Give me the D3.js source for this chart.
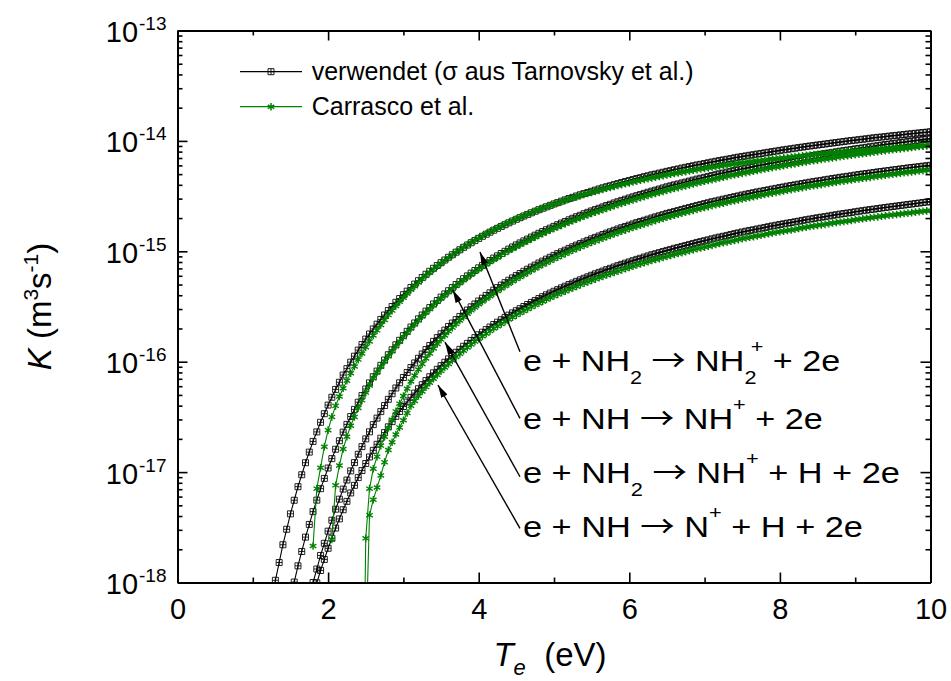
<!DOCTYPE html>
<html><head><meta charset="utf-8">
<script src="https://cdn.jsdelivr.net/npm/d3@7"></script>
<style>
body{margin:0;background:#fff}
text{font-family:"Liberation Sans",Arial,Helvetica,sans-serif;fill:#000}
</style>
</head><body><svg id="c" width="951" height="681"></svg>
<script>
// ---------- DATA: log10 of K (m^3 s^-1), Te grid in eV ----------
const te = [1.2,1.25,1.3,1.35,1.4,1.45,1.5,1.55,1.6,1.65,1.7,1.75,1.8,1.85,1.9,1.95,
2.0,2.05,2.1,2.15,2.2,2.25,2.3,2.35,2.4,2.45,2.5,2.55,2.6,2.65,2.7,2.75,2.8,2.85,2.9,2.95,
3.0,3.05,3.1,3.15,3.2,3.25,3.3,3.35,3.4,3.45,3.5,3.55,3.6,3.65,3.7,3.75,3.8,3.85,3.9,3.95,
4.0,4.05,4.1,4.15,4.2,4.25,4.3,4.35,4.4,4.45,4.5,4.55,4.6,4.65,4.7,4.75,4.8,4.85,4.9,4.95,
5.0,5.05,5.1,5.15,5.2,5.25,5.3,5.35,5.4,5.45,5.5,5.55,5.6,5.65,5.7,5.75,5.8,5.85,5.9,5.95,
6.0,6.05,6.1,6.15,6.2,6.25,6.3,6.35,6.4,6.45,6.5,6.55,6.6,6.65,6.7,6.75,6.8,6.85,6.9,6.95,
7.0,7.05,7.1,7.15,7.2,7.25,7.3,7.35,7.4,7.45,7.5,7.55,7.6,7.65,7.7,7.75,7.8,7.85,7.9,7.95,
8.0,8.05,8.1,8.15,8.2,8.25,8.3,8.35,8.4,8.45,8.5,8.55,8.6,8.65,8.7,8.75,8.8,8.85,8.9,8.95,
9.0,9.05,9.1,9.15,9.2,9.25,9.3,9.35,9.4,9.45,9.5,9.55,9.6,9.65,9.7,9.75,9.8,9.85,9.9,9.95,
10.0];

// verwendet (sigma aus Tarnovsky et al.)
const verw_NH2_NH2p = [-18.355,-18.161,-17.980,-17.819,-17.658,-17.518,-17.378,-17.255,-17.132,-17.024,-16.915,-16.819,-16.722,-16.636,-16.549,-16.471,
-16.393,-16.322,-16.251,-16.186,-16.121,-16.063,-16.004,-15.950,-15.895,-15.845,-15.795,-15.749,-15.703,-15.660,-15.617,-15.577,-15.537,-15.500,-15.462,-15.428,
-15.393,-15.361,-15.328,-15.297,-15.266,-15.237,-15.208,-15.181,-15.154,-15.129,-15.103,-15.079,-15.054,-15.031,-15.008,-14.986,-14.964,-14.943,-14.922,-14.903,
-14.883,-14.864,-14.845,-14.827,-14.809,-14.792,-14.775,-14.759,-14.742,-14.726,-14.710,-14.695,-14.680,-14.666,-14.651,-14.637,-14.623,-14.610,-14.597,-14.584,
-14.571,-14.559,-14.546,-14.534,-14.522,-14.511,-14.499,-14.488,-14.477,-14.467,-14.456,-14.446,-14.435,-14.425,-14.415,-14.406,-14.396,-14.387,-14.377,-14.368,
-14.359,-14.350,-14.341,-14.333,-14.324,-14.316,-14.307,-14.300,-14.292,-14.284,-14.276,-14.269,-14.261,-14.254,-14.246,-14.239,-14.232,-14.225,-14.218,-14.212,
-14.205,-14.198,-14.191,-14.185,-14.178,-14.172,-14.166,-14.160,-14.153,-14.147,-14.141,-14.136,-14.130,-14.125,-14.119,-14.114,-14.108,-14.103,-14.097,-14.092,
-14.086,-14.081,-14.076,-14.071,-14.066,-14.061,-14.056,-14.051,-14.046,-14.042,-14.037,-14.033,-14.028,-14.024,-14.019,-14.015,-14.010,-14.006,-14.001,-13.997,
-13.993,-13.989,-13.985,-13.981,-13.976,-13.972,-13.968,-13.965,-13.961,-13.957,-13.953,-13.950,-13.946,-13.942,-13.938,-13.935,-13.931,-13.928,-13.924,-13.921,
-13.917];
const verw_NH_NHp = [null,null,null,null,null,null,-18.143,-17.996,-17.849,-17.719,-17.589,-17.474,-17.358,-17.254,-17.150,-17.057,
-16.963,-16.878,-16.793,-16.716,-16.638,-16.568,-16.497,-16.432,-16.367,-16.307,-16.247,-16.192,-16.136,-16.085,-16.033,-15.985,-15.937,-15.892,-15.847,-15.806,
-15.764,-15.725,-15.686,-15.649,-15.612,-15.577,-15.542,-15.510,-15.477,-15.446,-15.415,-15.386,-15.357,-15.329,-15.301,-15.275,-15.248,-15.223,-15.198,-15.174,
-15.150,-15.128,-15.105,-15.083,-15.061,-15.041,-15.020,-15.000,-14.980,-14.961,-14.942,-14.924,-14.906,-14.889,-14.871,-14.854,-14.837,-14.821,-14.805,-14.790,
-14.774,-14.759,-14.744,-14.730,-14.715,-14.701,-14.687,-14.674,-14.660,-14.647,-14.634,-14.622,-14.610,-14.598,-14.585,-14.574,-14.562,-14.551,-14.539,-14.528,
-14.517,-14.507,-14.496,-14.486,-14.475,-14.465,-14.455,-14.446,-14.436,-14.426,-14.416,-14.407,-14.398,-14.390,-14.381,-14.373,-14.364,-14.355,-14.346,-14.338,
-14.330,-14.322,-14.314,-14.306,-14.298,-14.291,-14.283,-14.276,-14.268,-14.261,-14.254,-14.247,-14.240,-14.233,-14.226,-14.219,-14.212,-14.206,-14.199,-14.193,
-14.187,-14.181,-14.174,-14.168,-14.162,-14.156,-14.150,-14.144,-14.138,-14.132,-14.126,-14.121,-14.115,-14.110,-14.104,-14.099,-14.093,-14.088,-14.083,-14.078,
-14.072,-14.068,-14.063,-14.058,-14.053,-14.048,-14.043,-14.038,-14.033,-14.029,-14.024,-14.020,-14.015,-14.011,-14.006,-14.002,-13.997,-13.993,-13.988,-13.984,
-13.980];
const verw_NH2_NHp = [null,null,null,null,null,null,null,null,null,null,-18.273,-18.137,-18.000,-17.878,-17.755,-17.645,
-17.535,-17.436,-17.336,-17.245,-17.154,-17.072,-16.989,-16.914,-16.838,-16.769,-16.699,-16.635,-16.570,-16.511,-16.452,-16.397,-16.341,-16.290,-16.238,-16.191,
-16.143,-16.098,-16.053,-16.011,-15.969,-15.930,-15.890,-15.853,-15.816,-15.782,-15.747,-15.714,-15.681,-15.650,-15.619,-15.590,-15.560,-15.532,-15.503,-15.477,
-15.450,-15.425,-15.400,-15.376,-15.352,-15.329,-15.306,-15.284,-15.262,-15.241,-15.220,-15.201,-15.181,-15.162,-15.143,-15.125,-15.106,-15.089,-15.071,-15.054,
-15.037,-15.021,-15.005,-14.990,-14.974,-14.959,-14.944,-14.930,-14.915,-14.901,-14.887,-14.874,-14.861,-14.848,-14.835,-14.823,-14.810,-14.798,-14.786,-14.775,
-14.763,-14.752,-14.740,-14.730,-14.719,-14.709,-14.698,-14.688,-14.678,-14.668,-14.657,-14.648,-14.639,-14.630,-14.621,-14.612,-14.603,-14.594,-14.585,-14.577,
-14.568,-14.560,-14.551,-14.544,-14.536,-14.528,-14.520,-14.513,-14.505,-14.498,-14.490,-14.483,-14.476,-14.469,-14.462,-14.456,-14.449,-14.443,-14.436,-14.430,
-14.423,-14.417,-14.410,-14.404,-14.398,-14.392,-14.386,-14.380,-14.374,-14.369,-14.363,-14.358,-14.352,-14.347,-14.341,-14.336,-14.330,-14.326,-14.321,-14.316,
-14.310,-14.305,-14.300,-14.296,-14.291,-14.286,-14.281,-14.277,-14.272,-14.268,-14.263,-14.259,-14.254,-14.250,-14.245,-14.241,-14.237,-14.233,-14.229,-14.225,
-14.221];
const verw_NH_Np = [null,null,null,null,null,null,null,null,null,null,null,null,-18.115,-18.003,-17.891,-17.791,
-17.690,-17.599,-17.507,-17.424,-17.341,-17.265,-17.189,-17.120,-17.050,-16.986,-16.922,-16.863,-16.803,-16.748,-16.693,-16.642,-16.590,-16.543,-16.495,-16.451,
-16.406,-16.365,-16.323,-16.284,-16.245,-16.208,-16.171,-16.136,-16.101,-16.069,-16.036,-16.005,-15.974,-15.945,-15.915,-15.888,-15.860,-15.834,-15.807,-15.782,
-15.756,-15.733,-15.709,-15.686,-15.663,-15.642,-15.620,-15.599,-15.578,-15.558,-15.538,-15.519,-15.500,-15.482,-15.463,-15.446,-15.428,-15.411,-15.394,-15.378,
-15.362,-15.347,-15.331,-15.316,-15.301,-15.287,-15.272,-15.258,-15.244,-15.231,-15.217,-15.204,-15.191,-15.179,-15.166,-15.154,-15.142,-15.130,-15.118,-15.107,
-15.096,-15.085,-15.073,-15.063,-15.052,-15.042,-15.031,-15.022,-15.012,-15.002,-14.992,-14.983,-14.973,-14.965,-14.956,-14.947,-14.938,-14.929,-14.920,-14.912,
-14.904,-14.896,-14.887,-14.879,-14.871,-14.864,-14.856,-14.848,-14.840,-14.833,-14.825,-14.818,-14.811,-14.805,-14.798,-14.791,-14.784,-14.777,-14.770,-14.764,
-14.757,-14.751,-14.745,-14.739,-14.733,-14.727,-14.720,-14.714,-14.708,-14.702,-14.696,-14.691,-14.686,-14.680,-14.674,-14.669,-14.663,-14.658,-14.653,-14.648,
-14.642,-14.637,-14.632,-14.627,-14.622,-14.618,-14.613,-14.608,-14.603,-14.599,-14.594,-14.590,-14.585,-14.581,-14.576,-14.572,-14.567,-14.563,-14.558,-14.554,
-14.550];

// Carrasco et al.
const carr_NH2_NH2p = [null,null,null,null,null,null,null,null,null,null,null,null,-17.67,-17.15,-16.96,-16.77,
-16.62,-16.50,-16.40,-16.315,-16.240,-16.173,-16.105,-16.043,-15.981,-15.925,-15.868,-15.816,-15.763,-15.716,-15.668,-15.623,-15.578,-15.537,-15.496,-15.458,
-15.420,-15.385,-15.349,-15.316,-15.283,-15.252,-15.221,-15.192,-15.163,-15.136,-15.109,-15.084,-15.058,-15.034,-15.010,-14.987,-14.964,-14.943,-14.921,-14.901,
-14.881,-14.862,-14.842,-14.824,-14.806,-14.789,-14.772,-14.756,-14.739,-14.724,-14.708,-14.694,-14.679,-14.665,-14.651,-14.637,-14.623,-14.611,-14.598,-14.586,
-14.574,-14.562,-14.550,-14.539,-14.528,-14.518,-14.507,-14.497,-14.486,-14.476,-14.466,-14.457,-14.448,-14.439,-14.429,-14.421,-14.412,-14.404,-14.396,-14.388,
-14.380,-14.372,-14.364,-14.357,-14.350,-14.343,-14.335,-14.329,-14.322,-14.315,-14.308,-14.302,-14.296,-14.290,-14.284,-14.278,-14.272,-14.266,-14.260,-14.255,
-14.250,-14.244,-14.238,-14.233,-14.228,-14.223,-14.218,-14.213,-14.208,-14.204,-14.199,-14.195,-14.190,-14.186,-14.182,-14.178,-14.173,-14.169,-14.165,-14.161,
-14.157,-14.154,-14.150,-14.146,-14.142,-14.139,-14.135,-14.131,-14.127,-14.124,-14.121,-14.118,-14.115,-14.112,-14.108,-14.105,-14.102,-14.099,-14.096,-14.093,
-14.090,-14.087,-14.084,-14.082,-14.079,-14.076,-14.073,-14.071,-14.068,-14.066,-14.064,-14.062,-14.059,-14.057,-14.054,-14.052,-14.049,-14.047,-14.045,-14.043,
-14.040];
const carr_NH_NHp = [null,null,null,null,null,null,null,null,null,null,null,null,null,null,null,null,
null,-17.61,-17.12,-16.94,-16.79,-16.68,-16.58,-16.50,-16.42,-16.35,-16.28,-16.215,-16.15,-16.097,-16.045,-15.998,-15.95,-15.905,-15.86,-15.818,
-15.776,-15.737,-15.698,-15.661,-15.624,-15.589,-15.554,-15.522,-15.489,-15.458,-15.427,-15.398,-15.369,-15.341,-15.313,-15.287,-15.260,-15.235,-15.210,-15.186,
-15.162,-15.140,-15.118,-15.097,-15.075,-15.055,-15.034,-15.015,-14.995,-14.977,-14.958,-14.941,-14.923,-14.906,-14.889,-14.872,-14.855,-14.840,-14.824,-14.809,
-14.794,-14.780,-14.765,-14.751,-14.737,-14.723,-14.709,-14.696,-14.683,-14.671,-14.658,-14.647,-14.635,-14.623,-14.611,-14.600,-14.588,-14.577,-14.566,-14.556,
-14.545,-14.535,-14.525,-14.515,-14.505,-14.495,-14.485,-14.476,-14.467,-14.458,-14.448,-14.440,-14.431,-14.423,-14.415,-14.407,-14.398,-14.390,-14.381,-14.374,
-14.366,-14.359,-14.351,-14.344,-14.336,-14.329,-14.321,-14.314,-14.307,-14.301,-14.294,-14.288,-14.281,-14.275,-14.268,-14.261,-14.254,-14.248,-14.242,-14.237,
-14.231,-14.225,-14.219,-14.214,-14.208,-14.202,-14.196,-14.191,-14.185,-14.180,-14.174,-14.169,-14.164,-14.159,-14.154,-14.149,-14.143,-14.139,-14.134,-14.129,
-14.124,-14.120,-14.116,-14.112,-14.107,-14.102,-14.097,-14.093,-14.088,-14.084,-14.080,-14.076,-14.072,-14.068,-14.064,-14.060,-14.055,-14.051,-14.047,-14.044,
-14.040];
const carr_NH2_NHp = [null,null,null,null,null,null,null,null,null,null,null,null,null,null,null,null,
null,null,null,null,null,null,null,null,null,null,-17.60,-17.15,-16.97,-16.86,-16.76,-16.68,-16.60,-16.525,-16.45,-16.38,
-16.31,-16.245,-16.18,-16.125,-16.07,-16.02,-15.97,-15.925,-15.88,-15.84,-15.80,-15.762,-15.725,-15.691,-15.658,-15.627,-15.595,-15.565,-15.535,-15.508,
-15.48,-15.455,-15.430,-15.406,-15.382,-15.360,-15.337,-15.315,-15.293,-15.272,-15.251,-15.232,-15.212,-15.193,-15.174,-15.156,-15.137,-15.120,-15.103,-15.086,
-15.069,-15.053,-15.037,-15.022,-15.006,-14.991,-14.976,-14.962,-14.947,-14.934,-14.920,-14.907,-14.894,-14.881,-14.868,-14.856,-14.843,-14.831,-14.819,-14.808,
-14.796,-14.785,-14.774,-14.764,-14.753,-14.743,-14.732,-14.722,-14.712,-14.702,-14.691,-14.682,-14.673,-14.665,-14.656,-14.647,-14.638,-14.629,-14.620,-14.612,
-14.603,-14.595,-14.586,-14.579,-14.571,-14.564,-14.556,-14.549,-14.541,-14.534,-14.526,-14.519,-14.512,-14.505,-14.498,-14.492,-14.485,-14.479,-14.473,-14.467,
-14.460,-14.454,-14.447,-14.441,-14.435,-14.429,-14.423,-14.417,-14.411,-14.406,-14.401,-14.396,-14.390,-14.385,-14.379,-14.374,-14.368,-14.364,-14.359,-14.354,
-14.348,-14.344,-14.339,-14.335,-14.330,-14.325,-14.320,-14.316,-14.311,-14.307,-14.302,-14.298,-14.293,-14.289,-14.285,-14.281,-14.277,-14.273,-14.269,-14.265,
-14.261];
const carr_NH_Np = [null,null,null,null,null,null,null,null,null,null,null,null,null,null,null,null,
null,null,null,null,null,null,null,null,null,null,null,-17.39,-17.25,-17.14,-17.03,-16.91,-16.80,-16.73,-16.66,-16.595,
-16.53,-16.465,-16.40,-16.355,-16.31,-16.27,-16.23,-16.19,-16.155,-16.12,-16.085,-16.052,-16.020,-15.989,-15.958,-15.929,-15.900,-15.872,-15.845,-15.818,
-15.792,-15.769,-15.746,-15.723,-15.700,-15.679,-15.658,-15.638,-15.617,-15.598,-15.578,-15.559,-15.540,-15.522,-15.504,-15.487,-15.470,-15.454,-15.437,-15.421,
-15.405,-15.390,-15.375,-15.361,-15.346,-15.332,-15.318,-15.304,-15.290,-15.277,-15.264,-15.252,-15.239,-15.227,-15.214,-15.203,-15.191,-15.180,-15.168,-15.158,
-15.147,-15.136,-15.124,-15.114,-15.104,-15.094,-15.084,-15.075,-15.066,-15.056,-15.046,-15.037,-15.028,-15.020,-15.012,-15.003,-14.994,-14.986,-14.977,-14.970,
-14.962,-14.954,-14.946,-14.938,-14.930,-14.923,-14.916,-14.909,-14.901,-14.894,-14.887,-14.880,-14.873,-14.867,-14.861,-14.855,-14.848,-14.841,-14.834,-14.828,
-14.822,-14.817,-14.811,-14.806,-14.800,-14.794,-14.787,-14.782,-14.776,-14.771,-14.765,-14.761,-14.756,-14.750,-14.744,-14.739,-14.734,-14.730,-14.725,-14.720,
-14.714,-14.710,-14.705,-14.701,-14.696,-14.692,-14.688,-14.683,-14.678,-14.674,-14.670,-14.666,-14.662,-14.658,-14.654,-14.650,-14.645,-14.641,-14.637,-14.634,
-14.630];

// threshold points of two Carrasco curves (below the plotted range, off-grid)
const carr_NH2_NHp_onsetTe = [2.48], carr_NH2_NHp_onsetLogK = [-18.6];
const carr_NH_Np_onsetTe   = [2.50], carr_NH_Np_onsetLogK   = [-18.6];

// axes
const xMajorTicks = [0,2,4,6,8,10];
const xMinorTicks = [1,3,5,7,9];
const yDecades = [-18,-17,-16,-15,-14,-13];
const yMinorMult = [2,3,4,5,6,7,8,9];

// legend
const legendLabels = ["verwendet (σ aus Tarnovsky et al.)", "Carrasco et al."];

// annotations (data coordinates)
const annLabelTe = [4.588, 4.588, 4.588, 4.588];
const annLabelLogK = [-16.082, -16.610, -17.096, -17.584];
const arrowTailTe = [4.548, 4.548, 4.548, 4.548];
const arrowTailLogK = [-15.909, -16.513, -17.042, -17.509];
const arrowHeadTe = [4.017, 3.655, 3.552, 3.459];
const arrowHeadLogK = [-15.006, -15.350, -15.822, -16.211];
const ARW = {t:"\u2192", f:"'Noto Sans CJK SC'", fs:30};
const annLabelParts = [
  [{t:"e + NH"},{t:"2",s:"sub"},{t:" "},ARW,{t:" NH"},{t:"2",s:"sub"},{t:"+",s:"sup",dx:-5},{t:" + 2e"}],
  [{t:"e + NH "},ARW,{t:" NH"},{t:"+",s:"sup"},{t:" + 2e"}],
  [{t:"e + NH"},{t:"2",s:"sub"},{t:" "},ARW,{t:" NH"},{t:"+",s:"sup"},{t:" + H + 2e"}],
  [{t:"e + NH "},ARW,{t:" N"},{t:"+",s:"sup"},{t:" + H + 2e"}]
];
const annLabelWidths = [323, 300, 377, 340];

// ---------- CHART ----------
const W = 951, H = 681;
const M = {l:177.5, r:930.5, t:30.5, b:582.5};
const svg = d3.select("#c");
svg.append("rect").attr("width",W).attr("height",H).attr("fill","#fff");

const x = d3.scaleLinear().domain([0,10]).range([M.l, M.r]);
const y = d3.scaleLog().domain([1e-18,1e-13]).range([M.b, M.t]);

const defs = svg.append("defs");
defs.append("clipPath").attr("id","plotclip").append("rect")
  .attr("x",M.l).attr("y",M.t).attr("width",M.r-M.l).attr("height",M.b-M.t);
defs.append("marker").attr("id","ah").attr("viewBox","0 0 13 7")
  .attr("refX",13).attr("refY",3.5).attr("markerWidth",13).attr("markerHeight",7)
  .attr("markerUnits","userSpaceOnUse").attr("orient","auto")
  .append("path").attr("d","M0,0L13,3.5L0,7Z").attr("fill","#000");

function points(vals, onT, onK){
  const p = te.map((t,i)=>[t, vals[i]]).filter(d=>d[1]!==null && d[1]!==undefined);
  (onT||[]).forEach((t,i)=>p.push([t, onK[i]]));
  return p.sort((a,b)=>a[0]-b[0]);
}
const black = "#000", green = "#008000";
const seriesBlack = [verw_NH2_NH2p, verw_NH_NHp, verw_NH2_NHp, verw_NH_Np].map(v=>points(v));
const seriesGreen = [
  points(carr_NH2_NH2p),
  points(carr_NH_NHp),
  points(carr_NH2_NHp, carr_NH2_NHp_onsetTe, carr_NH2_NHp_onsetLogK),
  points(carr_NH_Np, carr_NH_Np_onsetTe, carr_NH_Np_onsetLogK)
];
const line = d3.line().x(d=>x(d[0])).y(d=>y(Math.pow(10,d[1])));
const sqPath = "M-3,-3H3V3H-3Z M-3,0H3 M0,-3V3";
const starPath = d3.symbol(d3.symbolAsterisk, 40)();

const plot = svg.append("g").attr("clip-path","url(#plotclip)");
function drawSeries(data, color, kind){
  const g = plot.append("g");
  g.append("path").attr("d", line(data)).attr("fill","none")
    .attr("stroke", color).attr("stroke-width", 1.1);
  g.selectAll("path.m").data(data).join("path").attr("class","m")
    .attr("transform", d=>`translate(${x(d[0])},${y(Math.pow(10,d[1]))})`)
    .attr("d", kind==="sq" ? sqPath : starPath)
    .attr("fill","none").attr("stroke", color)
    .attr("stroke-width", kind==="sq" ? 0.85 : 1.4);
}
seriesBlack.forEach(s=>drawSeries(s, black, "sq"));
seriesGreen.forEach(s=>drawSeries(s, green, "star"));

// axes
const yMinorTicks = [];
yDecades.slice(0,-1).forEach(e=>yMinorMult.forEach(m=>yMinorTicks.push(m*Math.pow(10,e))));
const yMajorTicks = yDecades.map(e=>Math.pow(10,e));

function styleAxis(g){
  g.selectAll(".domain").attr("stroke","#000").attr("stroke-width",2);
  g.selectAll(".tick line").attr("stroke","#000").attr("stroke-width",1.6);
  g.attr("font-family",null).attr("font-size",null);
}
svg.append("g").attr("transform",`translate(0,${M.b})`)
  .call(d3.axisBottom(x).tickValues(xMinorTicks).tickSize(-5).tickSizeOuter(0).tickFormat(""))
  .call(styleAxis).call(g=>g.select(".domain").remove());
const gxb = svg.append("g").attr("transform",`translate(0,${M.b})`)
  .call(d3.axisBottom(x).tickValues(xMajorTicks).tickSize(-10).tickSizeOuter(0).tickPadding(16).tickFormat(d3.format("d")))
  .call(styleAxis);
gxb.selectAll(".tick text").attr("font-size",29).attr("fill","#000");
svg.append("g").attr("transform",`translate(0,${M.t})`)
  .call(d3.axisTop(x).tickValues(xMinorTicks).tickSize(-5).tickSizeOuter(0).tickFormat(""))
  .call(styleAxis).call(g=>g.select(".domain").remove());
svg.append("g").attr("transform",`translate(0,${M.t})`)
  .call(d3.axisTop(x).tickValues(xMajorTicks).tickSize(-10).tickSizeOuter(0).tickFormat(""))
  .call(styleAxis);
svg.append("g").attr("transform",`translate(${M.l},0)`)
  .call(d3.axisLeft(y).tickValues(yMinorTicks).tickSize(-5).tickSizeOuter(0).tickFormat(""))
  .call(styleAxis).call(g=>g.select(".domain").remove());
const gyl = svg.append("g").attr("transform",`translate(${M.l},0)`)
  .call(d3.axisLeft(y).tickValues(yMajorTicks).tickSize(-10).tickSizeOuter(0).tickPadding(11).tickFormat(()=>""))
  .call(styleAxis);
gyl.selectAll(".tick text").attr("dy",11).attr("font-size",29).attr("text-anchor","end")
  .each(function(d){
    const t = d3.select(this).text(null);
    t.append("tspan").text("10");
    t.append("tspan").attr("font-size",19).attr("dy",-12).attr("dx",1).text("-" + String(-Math.round(Math.log10(d))));
  });
svg.append("g").attr("transform",`translate(${M.r},0)`)
  .call(d3.axisRight(y).tickValues(yMinorTicks).tickSize(-5).tickSizeOuter(0).tickFormat(""))
  .call(styleAxis).call(g=>g.select(".domain").remove());
svg.append("g").attr("transform",`translate(${M.r},0)`)
  .call(d3.axisRight(y).tickValues(yMajorTicks).tickSize(-10).tickSizeOuter(0).tickFormat(""))
  .call(styleAxis);

function rich(sel, parts, base, small, subDy, supDy){
  let cur = 0;
  parts.forEach(p=>{
    const target = p.s==="sub" ? subDy : p.s==="sup" ? supDy : 0;
    const ts = sel.append("tspan").text(p.t).attr("dy", target-cur)
      .attr("font-size", p.fs ? p.fs : (p.s ? small : base));
    if (p.f) ts.style("font-family", p.f);
    if (p.dx) ts.attr("dx", p.dx);
    if (p.i) ts.attr("font-style","italic");
    cur = target;
  });
}

// axis titles
const xt = svg.append("text").attr("x",(M.l+M.r)/2 - 4).attr("y",666).attr("text-anchor","middle").attr("xml:space","preserve");
rich(xt, [{t:"T",i:true},{t:"e",s:"sub",i:true},{t:"  (eV)"}], 33, 22, 9, -12);
const yt = svg.append("text").attr("transform",`translate(51,${(M.t+M.b)/2}) rotate(-90)`)
  .attr("text-anchor","middle").attr("xml:space","preserve");
rich(yt, [{t:"K",i:true},{t:" (m"},{t:"3",s:"sup"},{t:"s"},{t:"-1",s:"sup"},{t:")"}], 33, 21, 9, -13);

// legend
const lg = svg.append("g");
[[black,"sq",71.7],[green,"star",106.7]].forEach((d,i)=>{
  lg.append("line").attr("x1",240).attr("x2",302).attr("y1",d[2]).attr("y2",d[2])
    .attr("stroke",d[0]).attr("stroke-width",1.3);
  lg.append("path").attr("transform",`translate(271,${d[2]})`)
    .attr("d", d[1]==="sq" ? sqPath : starPath).attr("fill","none").attr("stroke",d[0])
    .attr("stroke-width", d[1]==="sq" ? 0.9 : 1.5);
  lg.append("text").attr("x",311.7).attr("y",d[2]+8.5).attr("font-size",25).text(legendLabels[i]);
});

// annotations
const ann = svg.append("g");
annLabelParts.forEach((parts,i)=>{
  ann.append("line")
    .attr("x1", x(arrowTailTe[i])).attr("y1", y(Math.pow(10,arrowTailLogK[i])))
    .attr("x2", x(arrowHeadTe[i])).attr("y2", y(Math.pow(10,arrowHeadLogK[i])))
    .attr("stroke","#000").attr("stroke-width",1.4).attr("marker-end","url(#ah)");
  const lx = x(annLabelTe[i]), ly = y(Math.pow(10,annLabelLogK[i]));
  const t = ann.append("text").attr("x",0).attr("y",0).attr("xml:space","preserve");
  rich(t, parts, 30, 19, 13, -18);
  const w = t.node().getComputedTextLength();
  t.attr("transform", `translate(${lx},${ly}) scale(${annLabelWidths[i] / w},1)`);
});
</script>
</body></html>
